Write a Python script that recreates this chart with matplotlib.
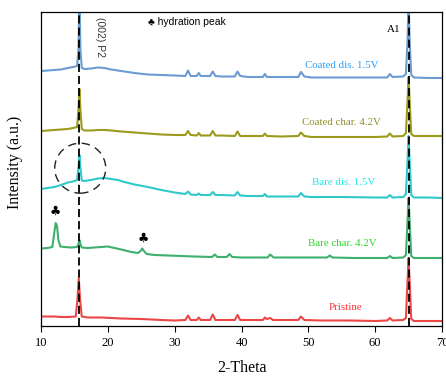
import matplotlib
matplotlib.use("Agg")
import matplotlib.pyplot as plt
from matplotlib.patches import Ellipse

# ---------------- data (2-Theta, intensity a.u. relative to each curve's own base) -------------
pristine_x = [10, 11, 12, 13, 14, 15.2, 15.45, 15.65, 15.85, 16.1, 17, 19, 22, 25, 28, 30, 31.6, 32, 32.4,
              33.3, 33.6, 33.9, 35.3, 35.7, 36.1, 39, 39.4, 39.8, 43.2, 43.5, 43.8, 44.3, 44.7, 48.5, 48.9,
              49.4, 52, 56, 60, 61.8, 62.2, 62.6, 64.2, 64.6, 64.85, 65, 65.15, 65.4, 65.8, 68, 70]
pristine_y = [9.5, 9.5, 9.5, 9, 9, 9.5, 26, 48, 26, 9.5, 8.5, 8.5, 7.5, 7, 6, 5.5, 6, 10.5, 6,
              6, 8.5, 6, 6, 11.5, 6, 6, 11, 6, 6, 8.5, 7, 8, 6, 6, 9.5,
              6, 5.5, 5.5, 5, 5.5, 8, 5.5, 6, 8, 46, 68, 46, 7, 5, 5, 5]

bare_char_x = [10, 11, 11.7, 12.0, 12.2, 12.4, 12.6, 12.9, 13.5, 14.5, 15.4, 15.6, 15.75, 15.9, 16.1, 17, 18,
               19, 20, 21, 22, 23.5, 24.5, 24.9, 25.15, 25.4, 25.8, 27, 29, 31, 33, 35.6, 36.0, 36.4, 37.8,
               38.2, 38.6, 40, 42, 43.9, 44.3, 44.8, 48, 52.8, 53.2, 53.6, 57, 61.8, 62.2, 62.6, 64.2,
               64.6, 64.85, 65, 65.15, 65.4, 65.8, 68, 70]
bare_char_y = [14.5, 15, 16, 31, 40, 37, 23, 16.5, 16, 15.5, 16, 19, 23, 19, 15.5, 15, 15.5,
               16, 16.5, 15, 13.5, 11, 10, 12, 14.5, 12, 9, 8, 7.5, 7, 6.5, 6, 8.5, 6, 6,
               9, 6, 5.5, 5.5, 5.5, 8.5, 5.5, 5.5, 5.5, 7.5, 5.5, 5, 5, 7, 5, 5.5,
               8, 43, 65, 43, 7, 5, 5, 5]

bare_dis_x = [10, 11, 12, 13, 14, 14.8, 15.4, 15.6, 15.75, 15.9, 16.1, 16.5, 17.5, 18.5, 19.5, 20.5, 21.5,
              22.5, 24, 26, 28, 30, 31.6, 32, 32.4, 33.3, 33.6, 33.9, 35.3, 35.7, 36.1, 37, 39, 39.4, 39.8,
              41, 43.2, 43.5, 43.8, 46, 48.5, 48.9, 49.4, 50.5, 55, 60, 61.8, 62.2, 62.6, 64.2, 64.6,
              64.85, 65, 65.15, 65.4, 65.8, 68, 70]
bare_dis_y = [12, 13, 14, 16, 18.5, 19.5, 21, 33, 46, 33, 20.5, 20, 21, 22.5, 23, 22, 21,
              19, 16.5, 14, 11, 8.5, 7, 9.5, 6.5, 6, 7.5, 6, 6, 9, 6, 6, 5.5, 9, 5.5,
              5, 5, 7, 4.5, 4.5, 4.5, 8, 4.5, 4, 4, 3.5, 3.5, 6, 3.5, 4, 7,
              41, 65, 41, 6, 3.5, 3.5, 3]

coated_char_x = [10, 11, 12, 13, 14, 14.8, 15.4, 15.6, 15.75, 15.9, 16.1, 16.5, 17.5, 18.5, 19.5, 20.5, 22,
                 24, 26, 28, 30, 31.6, 32, 32.4, 33.3, 33.6, 33.9, 35.3, 35.7, 36.1, 37, 39, 39.4, 39.8,
                 41, 43.2, 43.5, 43.8, 46, 48.5, 48.9, 49.4, 50.5, 55, 60, 61.8, 62.2, 62.6, 64.2, 64.6,
                 64.85, 65, 65.15, 65.4, 65.8, 68, 70]
coated_char_y = [10, 10.5, 11, 11.5, 12, 13, 14, 31, 52, 31, 12, 10.5, 10.5, 11, 11, 10.5, 9.5,
                 8.5, 7.5, 6.5, 6, 6, 10, 6, 5.5, 8, 5.5, 5.5, 10, 5.5, 5.5, 5, 9.5, 5,
                 5, 5, 7.5, 5, 4.5, 5, 8.5, 5, 4, 4, 4, 4.5, 7.5, 4.5, 5, 8,
                 41, 64, 41, 7, 5, 5, 5]

coated_dis_x = [10, 11, 12, 13, 14, 14.8, 15.4, 15.6, 15.75, 15.9, 16.1, 16.5, 17.5, 18.5, 19.5, 20.5, 22,
                24, 26, 28, 30, 31.6, 32, 32.4, 33.3, 33.6, 33.9, 35.3, 35.7, 36.1, 37, 39, 39.4, 39.8,
                41, 43.2, 43.5, 43.8, 46, 48.5, 48.9, 49.4, 50.5, 55, 60, 61.8, 62.2, 62.6, 64.2, 64.6,
                64.85, 65, 65.15, 65.4, 65.8, 68, 70]
coated_dis_y = [11, 11.5, 12, 12.5, 14, 15, 16, 32, 86, 32, 14, 13, 13.5, 14.5, 14, 12.5, 11,
                9, 7.5, 7, 6.5, 6, 11.5, 6, 6, 9, 6, 6, 10.5, 6, 5.5, 5.5, 10.5, 6,
                5, 5, 8, 5, 5, 5, 10, 5.5, 4.5, 4.5, 4.5, 4.5, 8, 5, 5.5, 8,
                42, 86, 42, 7, 4.5, 4, 4]

series_names = ["Pristine", "Bare char. 4.2V", "Bare dis. 1.5V", "Coated char. 4.2V", "Coated dis. 1.5V"]
series_x = [pristine_x, bare_char_x, bare_dis_x, coated_char_x, coated_dis_x]
series_y = [pristine_y, bare_char_y, bare_dis_y, coated_char_y, coated_dis_y]

# ---------------- style ----------------
offsets = [0, 63, 125, 185, 244]
line_colors = ["#ec4646", "#3db06e", "#2fc8cb", "#9b9a1c", "#6a9bd3"]
label_colors = ["#ff3030", "#2ed62e", "#22e8e8", "#8f8f2a", "#2f9cf5"]
label_pos = [(55.5, 19), (55.15, 83), (55.3, 143.3), (54.9, 203.7), (55.05, 261)]

serif = "Liberation Serif"

fig = plt.figure(figsize=(4.46, 3.76), dpi=100)
ax = fig.add_axes([41 / 446, 50 / 376, 401 / 446, 314 / 376])

for xs, ys, off, c in zip(series_x, series_y, offsets, line_colors):
    ax.plot(xs, [v + off for v in ys], color=c, lw=1.5, solid_joinstyle="round", zorder=2)

for name, (lx, ly), c in zip(series_names, label_pos, label_colors):
    ax.text(lx, ly, name, color=c, fontsize=7.8, family=serif, ha="center", va="center")

# reference lines
for xv in (15.75, 65.0):
    ax.axvline(xv, color="black", lw=1.3, ls=(0, (4.5, 2.2)), zorder=4)

ax.add_patch(Ellipse((15.87, 157.8), 7.63, 50, fill=False, ec="#222222", lw=1.0,
                     ls=(0, (6, 4)), zorder=4))

ax.text(18.83, 289.3, "(002) P2", rotation=270, fontsize=7.5, family=["Liberation Sans", "DejaVu Sans"],
        color="#333333", ha="center", va="center")
ax.text(62.72, 296, "A1", fontsize=8, family=serif, ha="center", va="center")
ax.text(26.06, 304.3, "\u2663 hydration peak", fontsize=7.5, family=["Liberation Sans", "DejaVu Sans"],
        ha="left", va="center")
ax.text(12.2, 114.3, "\u2663", fontsize=9, family="DejaVu Sans", ha="center", va="center")
ax.text(25.26, 87.7, "\u2663", fontsize=9, family="DejaVu Sans", ha="center", va="center")

ax.set_xlim(10, 70)
ax.set_ylim(0, 314)
ax.set_xticks([10, 20, 30, 40, 50, 60, 70])
ax.set_yticks([])
ax.tick_params(axis="x", direction="out", length=4, width=0.8, pad=4, labelsize=9)
for lab in ax.get_xticklabels():
    lab.set_family(serif)
for s in ax.spines.values():
    s.set_linewidth(0.9)

ax.set_xlabel("2-Theta", family=serif, fontsize=11.5)
ax.xaxis.label.set_va("center")
ax.xaxis.set_label_coords(0.5, (326 - 368) / 314)
ax.set_ylabel("Intensity (a.u.)", family=serif, fontsize=11.5)
ax.yaxis.label.set_va("center")
ax.yaxis.set_label_coords((15 - 41) / 401, (326 - 162) / 314)

fig.savefig("out.png", dpi=100)
